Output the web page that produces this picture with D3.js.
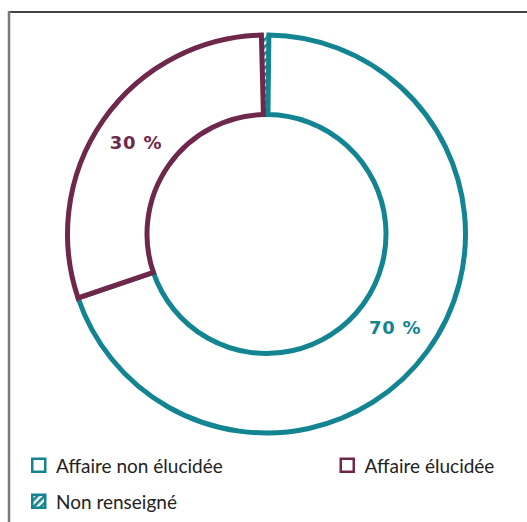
<!doctype html>
<html>
<head>
<meta charset="utf-8">
<script src="https://cdn.jsdelivr.net/npm/d3@7/dist/d3.min.js"></script>
</head>
<body style="margin:0px;background:#fff">
<script>

var w = 527;
var h = 522;

// share of cases by outcome
var categories = ["Affaire non élucidée", "Affaire élucidée", "Non renseigné"];
var values = [69.6, 29.8, 0.6];
var colors = ["#138592", "#6e284c", "#138592"];

var svg = d3.select("body").append("svg")
  .attr("width", w)
  .attr("height", h)
  .style("display", "block");

// diagonal hatch for the "not filled in" slice
var defs = svg.append("defs");
var pat = defs.append("pattern")
  .attr("id", "hatch")
  .attr("patternUnits", "userSpaceOnUse")
  .attr("width", 5)
  .attr("height", 5)
  .attr("patternTransform", "rotate(45)");
pat.append("rect").attr("width", 5).attr("height", 5).attr("fill", "#fff");
pat.append("rect").attr("width", 2.6).attr("height", 5).attr("fill", colors[2]);

// frame
svg.append("line")
  .attr("x1", 8).attr("y1", 12).attr("x2", w).attr("y2", 12)
  .attr("stroke", "#444").attr("stroke-width", 2);
svg.append("line")
  .attr("x1", 9).attr("y1", 11).attr("x2", 9).attr("y2", h)
  .attr("stroke", "#7a7a7a").attr("stroke-width", 2.5);

var cx = 266.5, cy = 234;
var rOuter = 199, rInner = 119.5;

// small offset so the thin hatched slice sits on the vertical axis
var pie = d3.pie().sort(null).value(function(d){ return d; })
  .startAngle(0.012).endAngle(0.012 + 2 * Math.PI);
var arcs = pie(values);

var arc = d3.arc().innerRadius(rInner).outerRadius(rOuter);

var g = svg.append("g").attr("transform", "translate(" + cx + "," + cy + ")");

// hatched slice first so the neighbours' outlines sit on top of it
var order = [2, 0, 1];
g.selectAll("path")
  .data(order.map(function(i){ return {i: i, a: arcs[i]}; }))
  .enter()
  .append("path")
    .attr("d", function(d){ return arc(d.a); })
    .attr("fill", function(d){ return d.i == 2 ? "url(#hatch)" : "#fff"; })
    .attr("stroke", function(d){ return d.i == 2 ? "none" : colors[d.i]; })
    .attr("stroke-width", 5)
    .attr("stroke-linejoin", "miter");

// percentage labels at the middle of the ring
var labelArc = d3.arc().innerRadius(159).outerRadius(159);
g.selectAll("text.pct")
  .data(arcs.slice(0, 2))
  .enter()
  .append("text")
    .attr("class", "pct")
    .attr("transform", function(d){ return "translate(" + labelArc.centroid(d) + ")"; })
    .attr("text-anchor", "middle")
    .attr("dy", "0.35em")
    .attr("fill", function(d, i){ return colors[i]; })
    .style("font-family", "'DejaVu Sans', Verdana, sans-serif")
    .style("font-weight", "bold")
    .style("font-size", "18px")
    .style("letter-spacing", "0.8px")
    .text(function(d){ return Math.round(d.value) + " %"; });

// legend
var legendPos = [[31, 457.5], [339.5, 457.5], [31, 493.5]];
var lg = svg.selectAll("g.legend")
  .data(categories)
  .enter()
  .append("g")
    .attr("class", "legend")
    .attr("transform", function(d, i){ return "translate(" + legendPos[i][0] + "," + legendPos[i][1] + ")"; });

lg.append("rect")
  .attr("x", 1.25).attr("y", 1.25)
  .attr("width", 13).attr("height", 13)
  .attr("fill", function(d, i){ return i == 2 ? "url(#hatch)" : "#fff"; })
  .attr("stroke", function(d, i){ return colors[i]; })
  .attr("stroke-width", 2.5);

lg.append("text")
  .attr("x", 25)
  .attr("y", 15.5)
  .attr("fill", "#222")
  .style("font-family", "Lato, 'Open Sans', sans-serif")
  .style("font-size", "19px")
  .text(function(d){ return d; });

</script>
</body>
</html>
